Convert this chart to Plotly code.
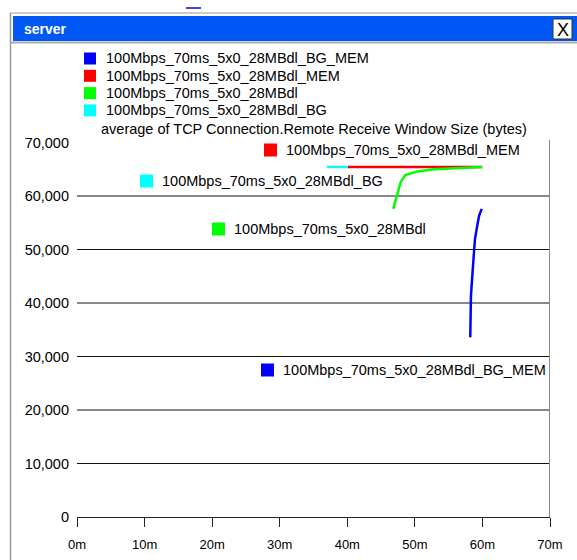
import plotly.graph_objects as go

W, H = 577, 560

# ---- data ----
series_names = [
    "100Mbps_70ms_5x0_28MBdl_BG_MEM",
    "100Mbps_70ms_5x0_28MBdl_MEM",
    "100Mbps_70ms_5x0_28MBdl",
    "100Mbps_70ms_5x0_28MBdl_BG",
]
series_colors = ["#0000FF", "#FF0000", "#00FF00", "#00FFFF"]

bg_mem_x = [58.2, 58.3, 58.6, 58.9, 59.2, 59.5, 59.9]
bg_mem_y = [33600, 41300, 46900, 52000, 54200, 56300, 57600]

mem_x = [40.1, 59.9]
mem_y = [65400, 65400]

base_x = [46.8, 47.3, 47.9, 48.6, 50.4, 52.9, 55.9, 60.0]
base_y = [57600, 60000, 62600, 63900, 64600, 65000, 65200, 65400]

bg_x = [37.0, 40.1]
bg_y = [65400, 65400]

x_ticks = [0, 10, 20, 30, 40, 50, 60, 70]
x_tick_labels = ["0m", "10m", "20m", "30m", "40m", "50m", "60m", "70m"]
y_ticks = [0, 10000, 20000, 30000, 40000, 50000, 60000, 70000]
y_tick_labels = ["0", "10,000", "20,000", "30,000", "40,000", "50,000", "60,000", "70,000"]
grid_vals = [10000, 20000, 30000, 40000, 50000, 60000]

chart_title = "average of TCP Connection.Remote Receive Window Size (bytes)"
window_title = "server"

FONT = "Liberation Sans, Arial, sans-serif"
TXT = 14.5


def px(x):
    return x / W


def py(y):
    return 1 - y / H


fig = go.Figure()
xs = [bg_mem_x, mem_x, base_x, bg_x]
ys = [bg_mem_y, mem_y, base_y, bg_y]
# draw order: BG first, then MEM, base, BG_MEM
for i in [3, 1, 2, 0]:
    fig.add_trace(go.Scatter(x=xs[i], y=ys[i], mode="lines",
                             line=dict(color=series_colors[i], width=2.5),
                             name=series_names[i], showlegend=False,
                             hoverinfo="skip"))

shapes = []
annotations = []

# window frame
shapes.append(dict(type="line", xref="paper", yref="paper", x0=px(10), x1=1, y0=py(13), y1=py(13),
                   line=dict(color="#999999", width=1)))
shapes.append(dict(type="line", xref="paper", yref="paper", x0=px(10.5), x1=px(10.5), y0=py(13), y1=0,
                   line=dict(color="#999999", width=1.5)))
shapes.append(dict(type="rect", xref="paper", yref="paper", x0=px(13), x1=1, y0=py(41), y1=py(16),
                   fillcolor="#0058F4", line=dict(width=0)))
shapes.append(dict(type="line", xref="paper", yref="paper", x0=px(11), x1=1, y0=py(42.5), y1=py(42.5),
                   line=dict(color="#AAAAAA", width=2)))
shapes.append(dict(type="rect", xref="paper", yref="paper", x0=px(553), x1=px(572), y0=py(39), y1=py(19),
                   fillcolor="white", line=dict(color="#333333", width=1)))
shapes.append(dict(type="line", xref="paper", yref="paper", x0=px(186), x1=px(201), y0=py(8), y1=py(8),
                   line=dict(color="#0000FF", width=1.5)))
annotations.append(dict(text="<b>" + window_title + "</b>", x=px(22), y=py(29), xref="paper", yref="paper",
                        xanchor="left", yanchor="middle", showarrow=False,
                        font=dict(family=FONT, size=14, color="white")))
annotations.append(dict(text="X", x=px(562.5), y=py(29.5), xref="paper", yref="paper",
                        xanchor="center", yanchor="middle", showarrow=False,
                        font=dict(family=FONT, size=18, color="black")))

# top legend
for i, name in enumerate(series_names):
    cy = 58.5 + i * 17.3
    shapes.append(dict(type="rect", xref="paper", yref="paper", x0=px(84), x1=px(96), y0=py(cy + 6), y1=py(cy - 6),
                       fillcolor=series_colors[i], line=dict(width=0)))
    annotations.append(dict(text=name, x=px(104), y=py(cy), xref="paper", yref="paper",
                            xanchor="left", yanchor="middle", showarrow=False,
                            font=dict(family=FONT, size=TXT, color="black")))
annotations.append(dict(text=chart_title, x=px(99), y=py(129.5), xref="paper", yref="paper",
                        xanchor="left", yanchor="middle", showarrow=False,
                        font=dict(family=FONT, size=TXT, color="black")))

# in-plot labels
label_pos = [(261, 370), (264, 150), (212, 229), (140, 181)]
for i, (lx, ly) in enumerate(label_pos):
    shapes.append(dict(type="rect", xref="paper", yref="paper", x0=px(lx), x1=px(lx + 13),
                       y0=py(ly + 6.5), y1=py(ly - 6.5),
                       fillcolor=series_colors[i], line=dict(width=0)))
    annotations.append(dict(text=series_names[i], x=px(lx + 20), y=py(ly), xref="paper", yref="paper",
                            xanchor="left", yanchor="middle", showarrow=False,
                            font=dict(family=FONT, size=TXT, color="black")))

# gridlines
for g in grid_vals:
    shapes.append(dict(type="line", xref="x", yref="y", x0=0, x1=70, y0=g, y1=g,
                       line=dict(color="#111111", width=1), layer="below"))
# right border
shapes.append(dict(type="line", xref="x", yref="paper", x0=70, x1=70, y0=py(517), y1=py(140),
                   line=dict(color="#888888", width=2)))

x_dom = [px(77), px(550)]
y_dom = [py(517), py(142.5)]

fig.update_layout(
    template="none",
    width=W, height=H,
    margin=dict(l=0, r=0, t=0, b=0, autoexpand=False),
    paper_bgcolor="white", plot_bgcolor="white",
    showlegend=False,
    shapes=shapes, annotations=annotations,
    xaxis=dict(domain=x_dom, range=[0, 70], tickvals=x_ticks, ticktext=x_tick_labels,
               showgrid=False, zeroline=False, showline=True, linecolor="#222222", linewidth=1,
               ticks="outside", ticklen=9, tickcolor="#222222", tickwidth=1, automargin=False,
               ticklabelstandoff=6,
               tickfont=dict(family=FONT, size=13, color="black"), fixedrange=True),
    yaxis=dict(domain=y_dom, range=[0, 70000], tickvals=y_ticks, ticktext=y_tick_labels,
               showgrid=False, zeroline=False, showline=False, automargin=False,
               ticks="", ticklabelstandoff=7,
               tickfont=dict(family=FONT, size=TXT, color="black"), fixedrange=True),
    font=dict(family=FONT),
)

fig.write_html("out.html")
